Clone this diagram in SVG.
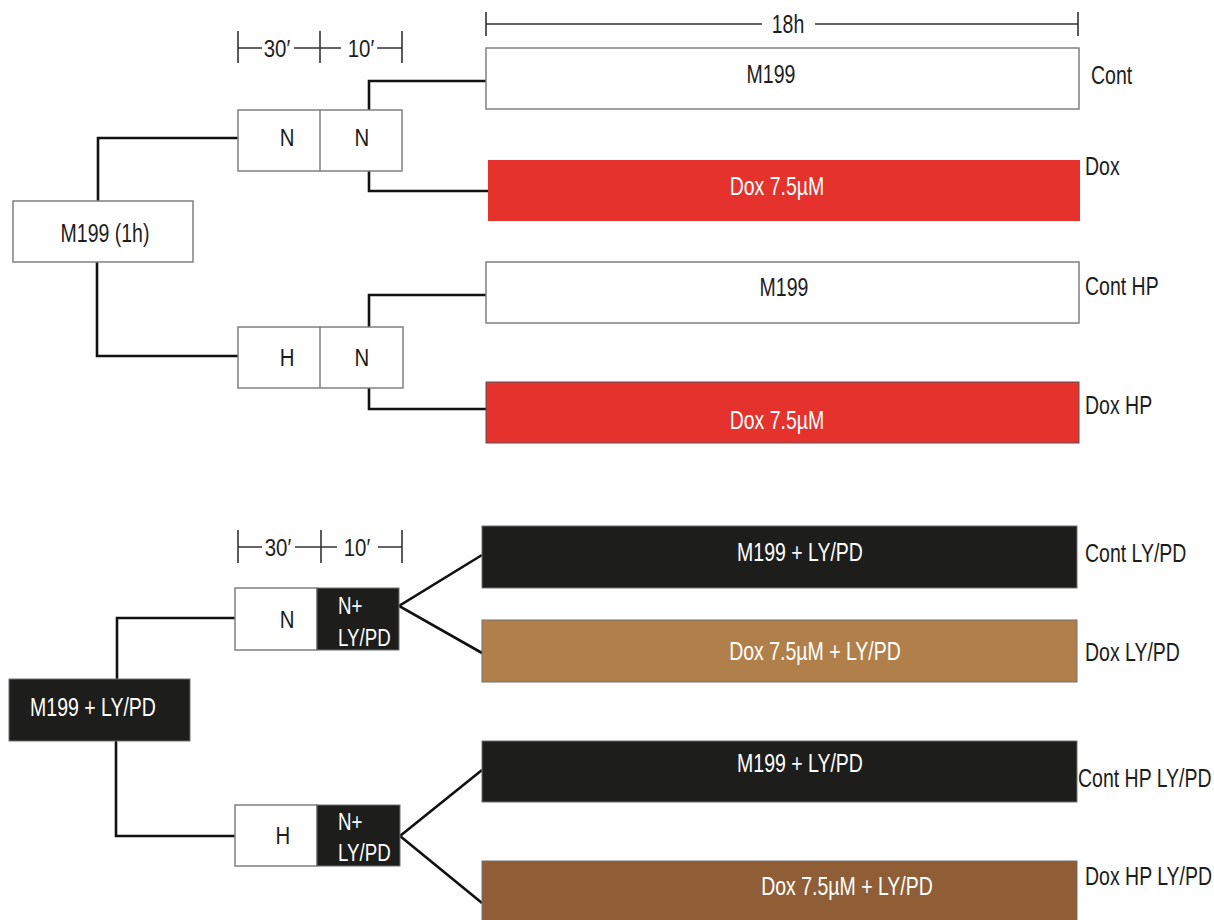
<svg xmlns="http://www.w3.org/2000/svg" width="1214" height="920" viewBox="0 0 1214 920">
<style>
text{font-family:"Liberation Sans",Arial,sans-serif;font-size:25px;fill:#1d1d1b;transform-box:fill-box;}
.c{text-anchor:middle;transform-origin:center;transform:scaleX(0.78);}
.l{text-anchor:start;transform-origin:left center;transform:scaleX(0.78);}
.w{fill:#ffffff;}
.m{font-size:24px;transform:scaleX(0.85);}
.box{fill:#ffffff;stroke:#808080;stroke-width:1.5;}
.blk{fill:#1d1d1b;stroke:#707070;stroke-width:1;}
.red{fill:#e5322d;}
.tan{fill:#b07f4a;stroke:#707070;stroke-width:1;}
.brn{fill:#8f5e37;stroke:#707070;stroke-width:1;}
.con{fill:none;stroke:#111111;stroke-width:2.6;}
.dim{fill:none;stroke:#333333;stroke-width:1.6;}
</style>
<rect width="1214" height="920" fill="#fefefe"/>

<g id="dims">
<path class="dim" d="M486 12V36M1078 12V36M486 24H762M815 24H1078"/>
<text class="c" x="788" y="33">18h</text>
<path class="dim" d="M238 31V63M320 31V63M402 31V63M238 48H262M294 48H341M377 48H402"/>
<text class="c m" x="277" y="57">30′</text>
<text class="c m" x="361" y="57">10′</text>
<path class="dim" d="M238 530V563M321 530V563M402 530V563M238 547H262M295 547H337M378 547H402"/>
<text class="c m" x="278" y="556">30′</text>
<text class="c m" x="357" y="556">10′</text>
</g>

<g id="connectors">
<path class="con" d="M98 201V138H238"/>
<path class="con" d="M97 262V356H238"/>
<path class="con" d="M369 110V81H486"/>
<path class="con" d="M369 171V191H488"/>
<path class="con" d="M369 327V295H486"/>
<path class="con" d="M369 388V409H487"/>
<path class="con" d="M117 679V618H235"/>
<path class="con" d="M116 741V836H235"/>
<path class="con" d="M482 555L399 606L482 653"/>
<path class="con" d="M482 770L400 836L482 903"/>
</g>

<g id="m199-1h">
<rect class="box" x="13" y="201" width="180" height="61"/>
<text class="c" x="105" y="242">M199 (1h)</text>
</g>

<g id="nn">
<rect class="box" x="238" y="110" width="164" height="61"/>
<line x1="320" y1="110" x2="320" y2="171" stroke="#808080" stroke-width="1.5"/>
<text class="c m" x="287" y="146">N</text>
<text class="c m" x="362" y="146">N</text>
</g>

<g id="hn">
<rect class="box" x="238" y="327" width="165" height="61"/>
<line x1="320" y1="327" x2="320" y2="388" stroke="#808080" stroke-width="1.5"/>
<text class="c m" x="287" y="366">H</text>
<text class="c m" x="362" y="366">N</text>
</g>

<g id="cont">
<rect class="box" x="486" y="48" width="593" height="61"/>
<text class="c" x="771" y="83">M199</text>
<text class="l" x="1091" y="84">Cont</text>
</g>

<g id="dox">
<rect class="red" x="488" y="160" width="592" height="61"/>
<text class="c w" x="777" y="195">Dox 7.5µM</text>
<text class="l" x="1085" y="175">Dox</text>
</g>

<g id="cont-hp">
<rect class="box" x="486" y="262" width="593" height="61"/>
<text class="c" x="784" y="296">M199</text>
<text class="l" x="1085" y="295">Cont HP</text>
</g>

<g id="dox-hp">
<rect class="red" x="486" y="382" width="593" height="61" stroke="#555555" stroke-width="1"/>
<text class="c w" x="777" y="429">Dox 7.5µM</text>
<text class="l" x="1085" y="414">Dox HP</text>
</g>

<g id="m199-lypd">
<rect class="blk" x="9" y="679" width="181" height="62"/>
<text class="c w" x="93" y="716">M199 + LY/PD</text>
</g>

<g id="n-nlypd">
<rect class="box" x="235" y="588" width="82" height="62"/>
<rect class="blk" x="317" y="588" width="82" height="62"/>
<text class="c m" x="287" y="628">N</text>
<text class="l w" x="338" y="614" style="font-size:24px">N+</text>
<text class="l w" x="338" y="646" style="font-size:24px">LY/PD</text>
</g>

<g id="h-nlypd">
<rect class="box" x="235" y="805" width="82" height="61"/>
<rect class="blk" x="317" y="805" width="83" height="61"/>
<text class="c m" x="283" y="844">H</text>
<text class="l w" x="338" y="830" style="font-size:24px">N+</text>
<text class="l w" x="338" y="861" style="font-size:24px">LY/PD</text>
</g>

<g id="cont-lypd">
<rect class="blk" x="482" y="526" width="595" height="62"/>
<text class="c w" x="800" y="561">M199 + LY/PD</text>
<text class="l" x="1085" y="562">Cont LY/PD</text>
</g>

<g id="dox-lypd">
<rect class="tan" x="482" y="620" width="595" height="62"/>
<text class="c w" x="815" y="660">Dox 7.5µM + LY/PD</text>
<text class="l" x="1085" y="661">Dox LY/PD</text>
</g>

<g id="cont-hp-lypd">
<rect class="blk" x="482" y="741" width="595" height="61"/>
<text class="c w" x="800" y="772">M199 + LY/PD</text>
<text class="l" x="1078" y="787">Cont HP LY/PD</text>
</g>

<g id="dox-hp-lypd">
<rect class="brn" x="482" y="861" width="595" height="70"/>
<text class="c w" x="847" y="895">Dox 7.5µM + LY/PD</text>
<text class="l" x="1085" y="885">Dox HP LY/PD</text>
</g>
</svg>
